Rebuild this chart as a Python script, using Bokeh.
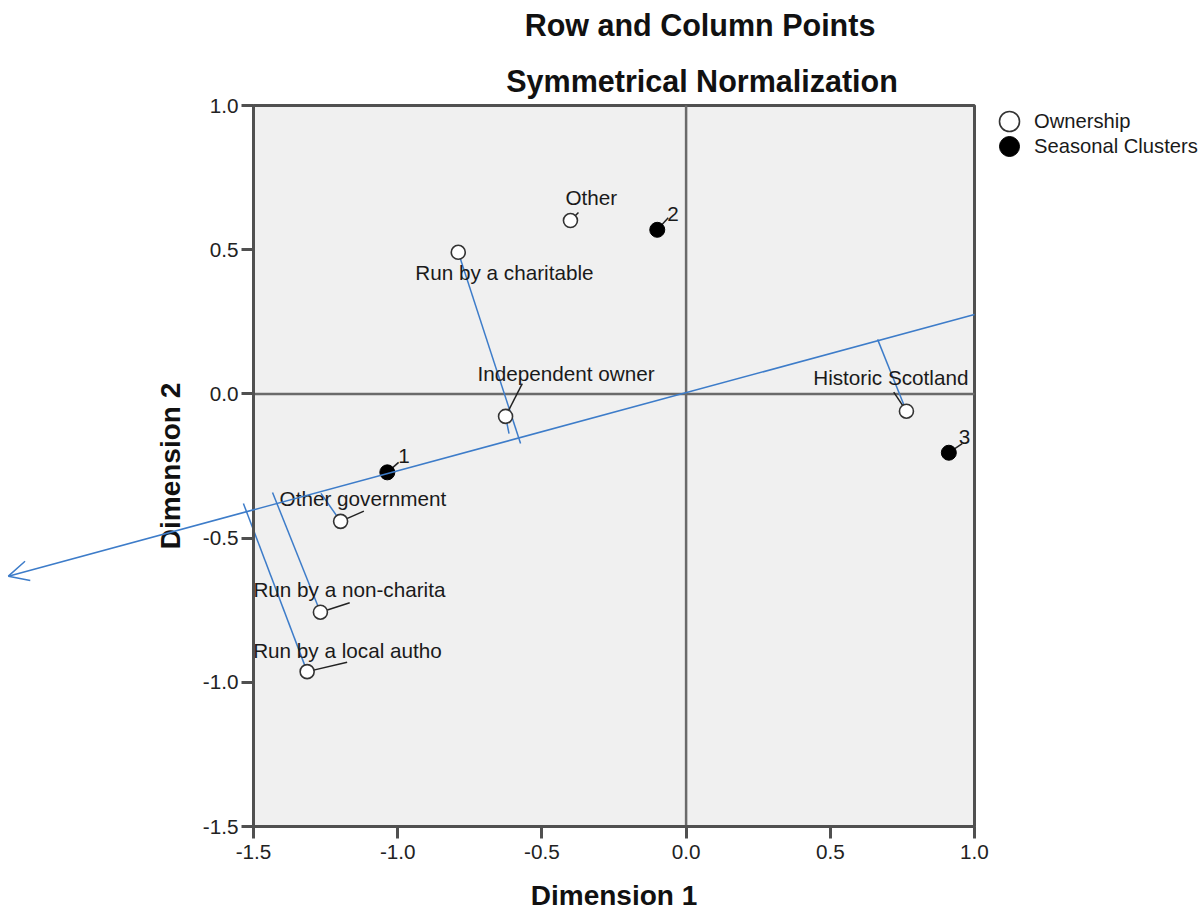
from bokeh.plotting import figure
from bokeh.models import (Range1d, FixedTicker, Label, Arrow, OpenHead, Legend,
                          LegendItem, ColumnDataSource)
from bokeh.core.properties import value
from bokeh.embed import file_html
from bokeh.resources import INLINE

# ---------------- data ----------------
row_labels = ["Other", "Run by a charitable", "Independent owner", "Historic Scotland",
              "Other government", "Run by a non-charita", "Run by a local autho"]
row_x = [-0.401, -0.790, -0.626, 0.764, -1.198, -1.268, -1.314]
row_y = [0.601, 0.491, -0.078, -0.060, -0.442, -0.757, -0.963]

col_labels = ["1", "2", "3"]
col_x = [-1.036, -0.100, 0.911]
col_y = [-0.272, 0.569, -0.204]

# projection of ownership points onto the vector
proj_labels = ["Run by a charitable", "Independent owner", "Historic Scotland",
               "Other government", "Run by a non-charita", "Run by a local autho"]
proj_foot_x = [-0.574, -0.614, 0.664, -1.266, -1.434, -1.535]
proj_foot_y = [-0.172, -0.138, 0.189, -0.345, -0.342, -0.380]

vector_start = (1.0, 0.275)
vector_end = (-2.35, -0.632)

axis_min, axis_max = -1.5, 1.0
tick_vals = [-1.5, -1.0, -0.5, 0.0, 0.5, 1.0]
tick_labels = ["-1.5", "-1.0", "-0.5", "0.0", "0.5", "1.0"]

title1 = "Row and Column Points"
title2 = "Symmetrical Normalization"
xlabel = "Dimension 1"
ylabel = "Dimension 2"
legend_labels = ["Ownership", "Seasonal Clusters"]

# ---------------- styles / layout ----------------
FONT = "Liberation Sans"
BLUE = "#3d7cc9"
AX = "#505050"
W, H = 1200, 912
PLOT_LEFT, PLOT_TOP = 253, 105   # pixel position of (axis_min, axis_max)
SCALE = 288.4                    # px per unit
ppx = ppy = SCALE

x_lo = axis_min - PLOT_LEFT / SCALE
x_hi = axis_min + (W - PLOT_LEFT) / SCALE
y_hi = axis_max + PLOT_TOP / SCALE
y_lo = axis_max - (H - PLOT_TOP) / SCALE

# label placement (pixels, right/down from point centre)
row_text_dx = [-5, -43, -28, 62, -61, -67, -54]
row_text_dy = [-23, 20, -43, -34, -23, -23, -21]
row_align = ["left", "left", "left", "right", "left", "left", "left"]
row_lead = [(8, -8), (0, 0), (16.7, -32.7), (-12.7, -19), (23.3, -10.3), (29.3, -9.4), (40, -9.3)]

col_text_dx = [11, 10, 10]
col_text_dy = [-16, -16, -16]
col_lead = [(11.3, -10), (11, -12), (13.4, -9)]

p = figure(width=W, height=H, frame_width=W, frame_height=H,
           x_range=Range1d(x_lo, x_hi), y_range=Range1d(y_lo, y_hi),
           output_backend="svg", toolbar_location=None, title=None,
           min_border_left=0, min_border_top=0, min_border_right=0,
           min_border_bottom=0)
p.background_fill_color = "white"
p.border_fill_color = "white"
p.outline_line_color = None

# titles
for txt, cx, base in ((title1, 699.5, 24), (title2, 701.5, 80)):
    p.add_layout(Label(x=cx, y=H - base, x_units="screen", y_units="screen", text=txt,
                       text_align="center", text_baseline="alphabetic",
                       text_font=FONT, text_font_size="30.5px", text_font_style="bold",
                       text_color="#111111"))

# grey plotting area
p.quad(left=[axis_min], right=[axis_max], bottom=[axis_min], top=[axis_max],
       fill_color="#f0f0f0", line_color=AX, line_width=3, level="image")

# zero reference lines
p.segment(x0=[0, axis_min], y0=[axis_min, 0], x1=[0, axis_max], y1=[axis_max, 0],
          line_color="#6a6a6a", line_width=2.5, level="underlay")
p.xgrid.visible = False
p.ygrid.visible = False

for ax in (p.xaxis[0], p.yaxis[0]):
    ax.fixed_location = axis_min
    ax.bounds = (axis_min, axis_max)
    ax.ticker = FixedTicker(ticks=tick_vals)
    ax.major_label_overrides = {v: l for v, l in zip(tick_vals, tick_labels)}
    ax.minor_tick_line_color = None
    ax.major_tick_in = 0
    ax.major_tick_out = 12
    ax.major_tick_line_width = 3
    ax.major_tick_line_color = AX
    ax.axis_line_color = AX
    ax.axis_line_width = 3
    ax.major_label_text_font = FONT
    ax.major_label_text_font_size = "20.7px"
    ax.major_label_text_color = "#222222"
    ax.axis_label_text_font = FONT
    ax.axis_label_text_font_size = "28px"
    ax.axis_label_text_font_style = "bold"
    ax.axis_label_text_color = "#111111"
p.xaxis.axis_label = xlabel
p.yaxis.axis_label = ylabel
p.xaxis.major_label_standoff = 6
p.yaxis.major_label_standoff = 3
p.xaxis.axis_label_standoff = 18
p.yaxis.axis_label_standoff = 14

# projection lines
proj_src = ColumnDataSource(dict(
    x0=[row_x[row_labels.index(n)] for n in proj_labels],
    y0=[row_y[row_labels.index(n)] for n in proj_labels],
    x1=proj_foot_x, y1=proj_foot_y))
p.segment("x0", "y0", "x1", "y1", source=proj_src, line_color=BLUE, line_width=1.5)

# the vector
p.add_layout(Arrow(x_start=vector_start[0], y_start=vector_start[1],
                   x_end=vector_end[0], y_end=vector_end[1],
                   line_color=BLUE, line_width=1.5,
                   end=OpenHead(size=20, line_color=BLUE, line_width=1.5)))

# leader lines
lx0 = row_x + col_x
ly0 = row_y + col_y
leads = row_lead + col_lead
lx1 = [x + d[0] / ppx for x, d in zip(lx0, leads)]
ly1 = [y - d[1] / ppy for y, d in zip(ly0, leads)]
p.segment(lx0, ly0, lx1, ly1, line_color="#222222", line_width=1.5)

# points
r_row = p.scatter(row_x, row_y, size=14, marker="circle", fill_color="white",
                  line_color="#333333", line_width=1.6)
r_col = p.scatter(col_x, col_y, size=15, marker="circle", fill_color="black",
                  line_color="black", line_width=1)

# labels
p.text(row_x, row_y, text=row_labels, x_offset=row_text_dx, y_offset=row_text_dy,
       text_align=row_align, text_baseline="middle", text_font=value(FONT),
       text_font_size="20.7px", text_color="#1a1a1a")
p.text(col_x, col_y, text=col_labels, x_offset=col_text_dx, y_offset=col_text_dy,
       text_align="left", text_baseline="middle", text_font=value(FONT),
       text_font_size="20.7px", text_color="#1a1a1a")

# legend (one entry per legend box so that the entries sit 25px apart)
leg_box = 50
for i, (lab, r) in enumerate(zip(legend_labels, [r_row, r_col])):
    cy = 121 + 25 * i
    leg = Legend(items=[LegendItem(label=lab, renderers=[r])],
                 location=(1009 - leg_box / 2, (H - cy) - leg_box / 2),
                 glyph_width=leg_box, glyph_height=leg_box, label_standoff=0,
                 padding=0, margin=0, border_line_alpha=0, background_fill_alpha=0,
                 label_text_font=FONT, label_text_font_size="20.2px",
                 label_text_color="#1a1a1a")
    p.add_layout(leg, "center")

open("out.html", "w").write(file_html(p, INLINE))
